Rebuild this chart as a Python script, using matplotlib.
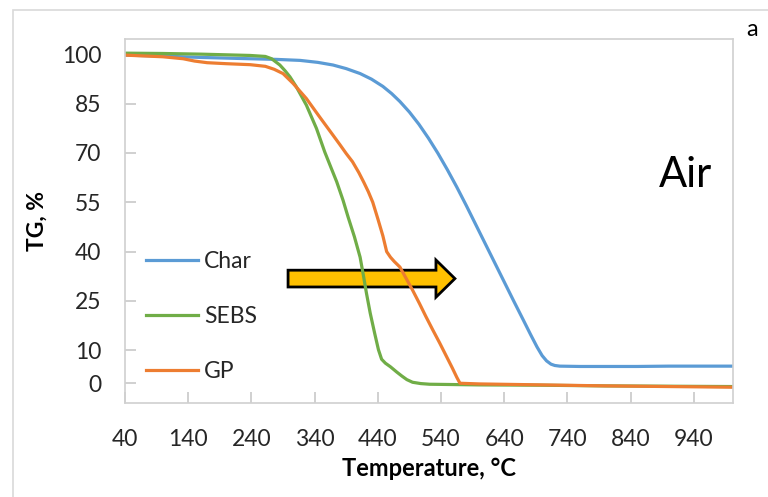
import matplotlib.pyplot as plt
from matplotlib.patches import FancyArrow, Rectangle

plt.rcParams['font.family'] = ['Lato', 'DejaVu Sans']

# TG curves in air, temperature in degC, mass in %
char_T = [40, 100, 160, 238, 280, 317, 345, 369, 390, 412, 430, 448, 462, 475,
          490, 505, 520, 535, 550, 565, 580, 595, 610, 625, 640, 655, 670, 682,
          692, 700, 707, 714, 720, 728, 760, 800, 850, 900, 950, 1000]
char_TG = [99.7, 99.4, 99.0, 98.6, 98.4, 98.1, 97.5, 96.7, 95.6, 94.1, 92.4,
           90.2, 88.0, 85.6, 82.4, 78.7, 74.5, 69.9, 64.9, 59.6, 54.0, 48.2,
           42.4, 36.6, 30.8, 25.0, 19.3, 14.7, 11.0, 8.4, 6.8, 5.8, 5.4, 5.2,
           5.1, 5.1, 5.1, 5.2, 5.2, 5.2]

sebs_T = [40, 100, 160, 238, 262, 272, 285, 293, 301, 311, 327, 343, 356, 366,
          375, 385, 393, 403, 412, 417, 422, 428, 435, 441, 446, 452, 460, 470,
          478, 486, 495, 508, 522, 600, 700, 800, 900, 1000]
sebs_TG = [100.3, 100.2, 100.0, 99.6, 99.3, 98.6, 96.7, 95.0, 93.1, 90.1, 84.5,
           77.4, 70.3, 65.5, 61.2, 55.6, 50.5, 44.5, 38.3, 33.0, 27.4, 21.3,
           15.2, 10.2, 7.3, 6.1, 5.0, 3.4, 2.2, 1.1, 0.3, -0.1, -0.3, -0.5,
           -0.6, -0.8, -0.9, -1.0]

gp_T = [40, 100, 132, 150, 170, 200, 238, 262, 276, 290, 306, 327, 348, 369,
        380, 390, 400, 410, 418, 425, 432, 440, 448, 454, 460, 466, 475, 485,
        495, 506, 516, 527, 538, 548, 558, 565, 570, 585, 600, 700, 800, 900, 1000]
gp_TG = [99.7, 99.2, 98.6, 97.9, 97.4, 97.1, 96.8, 96.3, 95.4, 94.1, 91.1, 86.5,
         80.9, 75.4, 72.5, 69.8, 67.3, 64.0, 61.0, 58.2, 55.0, 50.0, 44.8, 40.0,
         38.3, 37.0, 35.3, 31.8, 28.3, 24.2, 20.3, 16.2, 12.2, 8.4, 4.6, 1.8,
         0.0, -0.1, -0.2, -0.5, -0.8, -1.0, -1.2]

x_ticks = list(range(40, 1000, 100))
y_ticks = [0, 10, 25, 40, 55, 70, 85, 100]

fig = plt.figure(figsize=(7.68, 4.97), dpi=100)
ax = fig.add_axes([125 / 768, 94 / 497, 608 / 768, 364 / 497])

ax.plot(char_T, char_TG, color='#5B9BD5', lw=2.3, label='Char')
ax.plot(sebs_T, sebs_TG, color='#70AD47', lw=2.3, label='SEBS')
ax.plot(gp_T, gp_TG, color='#ED7D31', lw=2.3, label='GP')

ax.set_xlim(40, 1002)
ax.set_ylim(-6, 104.6)
ax.set_xticks(x_ticks)
ax.set_yticks(y_ticks)
ax.tick_params(direction='in', length=8, width=1.2, color='#c8c8c8',
               labelsize=16.5, labelcolor='#262626')
ax.tick_params(axis='x', pad=19)
ax.tick_params(axis='y', pad=17)
for s in ax.spines.values():
    s.set_color('#d0d0d0')
    s.set_linewidth(1.2)

ax.set_xlabel('Temperature, °C', fontsize=17, fontweight='bold', labelpad=5)
ax.set_ylabel('TG, %', fontsize=16.5, fontweight='bold', labelpad=10)

ax.legend(loc='upper left', bbox_to_anchor=(0.0, 0.475), frameon=False,
          fontsize=16.5, handlelength=2.3, handletextpad=0.26, labelspacing=1.5,
          labelcolor='#262626')

# shift arrow
ax.add_patch(FancyArrow(298, 31.8, 264, 0, width=5.1, head_width=11.3,
                        head_length=30, length_includes_head=True,
                        fc='#FFC000', ec='black', lw=2))

ax.text(927, 63.2, 'Air', fontsize=30, ha='center', va='center')
fig.text(752 / 768, 1 - 30 / 497, 'a', fontsize=17, ha='center', va='center')

# outer frame
fig.add_artist(Rectangle((13 / 768, -0.1), 1.2, 1.1 - 10 / 497,
                         transform=fig.transFigure, fill=False,
                         ec='#d9d9d9', lw=1.2))

fig.savefig('out.png', dpi=100)
